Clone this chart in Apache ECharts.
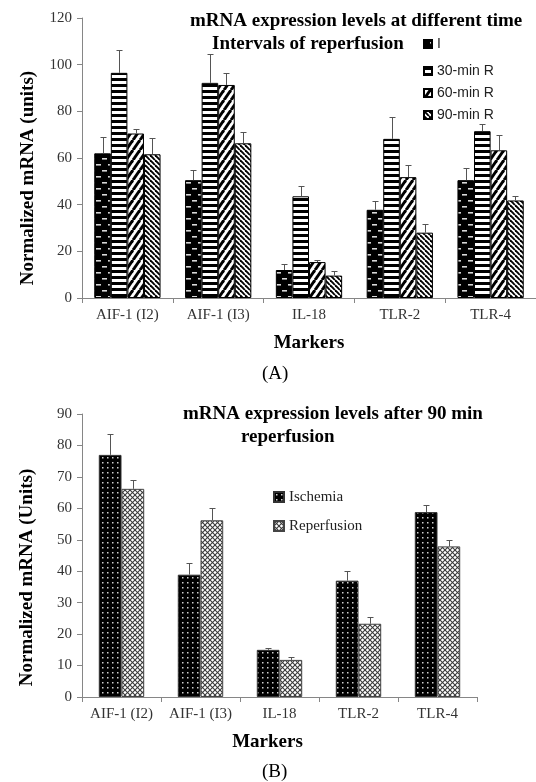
<!DOCTYPE html>
<html>
<head>
<meta charset="utf-8">
<script src="https://cdn.jsdelivr.net/npm/echarts@6/dist/echarts.min.js"></script>
<style>
html,body{margin:0;padding:0;background:#fff;}
#c{width:536px;height:782px;}
</style>
</head>
<body>
<div id="c"></div>
<script>
// ---------- DATA ----------
const categories = ['AIF-1 (I2)', 'AIF-1 (I3)', 'IL-18', 'TLR-2', 'TLR-4'];

// Panel A: mRNA expression at different time intervals of reperfusion
const namesA = ['I', '30-min R', '60-min R', '90-min R'];
const valI    = [62.0, 50.5, 12.0, 37.8, 50.5];
const errI    = [7.2, 4.5, 2.7, 3.9, 5.3];
const val30   = [96.5, 92.2, 43.6, 68.2, 71.5];
const err30   = [9.8, 12.3, 4.5, 9.2, 2.9];
const val60   = [70.5, 91.3, 15.4, 51.8, 63.3];
const err60   = [1.8, 5.2, 1.0, 5.1, 6.5];
const val90   = [61.6, 66.3, 9.6, 28.0, 41.8];
const err90   = [6.9, 4.7, 2.0, 3.8, 2.0];

// Panel B: mRNA expression after 90 min reperfusion
const namesB = ['Ischemia', 'Reperfusion'];
const valIsch = [77.0, 38.9, 15.0, 37.0, 58.8];
const errIsch = [6.5, 3.8, 0.7, 3.1, 2.4];
const valRep  = [66.2, 56.2, 11.8, 23.3, 47.9];
const errRep  = [2.9, 3.9, 0.8, 2.2, 2.1];

// axis ranges
const yA = {min: 0, max: 120, interval: 20};
const yB = {min: 0, max: 90, interval: 10};

// ---------- PATTERNS ----------
function pat(w, h, draw) {
  const c = document.createElement('canvas');
  c.width = w; c.height = h;
  const ctx = c.getContext('2d');
  draw(ctx, w, h);
  return {image: c, repeat: 'repeat'};
}
const patI = pat(12, 12, (x, w, h) => {
  x.fillStyle = '#000'; x.fillRect(0, 0, w, h);
  x.fillStyle = '#d8d8d8';
  x.fillRect(6, 2, 5, 1.6);
  x.fillRect(0, 8, 5, 1.6);
});
const pat30 = pat(4, 6, (x, w, h) => {
  x.fillStyle = '#fff'; x.fillRect(0, 0, w, h);
  x.fillStyle = '#000'; x.fillRect(0, 0, w, 3);
});
const pat60 = pat(7, 10, (x, w, h) => {
  x.fillStyle = '#fff'; x.fillRect(0, 0, w, h);
  x.strokeStyle = '#000'; x.lineWidth = 3;
  for (let k = -1; k <= 1; k++) {
    x.beginPath(); x.moveTo(k * w, h); x.lineTo(k * w + w, 0); x.stroke();
  }
});
const pat90 = pat(5, 5, (x, w, h) => {
  x.fillStyle = '#fff'; x.fillRect(0, 0, w, h);
  x.strokeStyle = '#000'; x.lineWidth = 1.9;
  for (let k = -1; k <= 1; k++) {
    x.beginPath(); x.moveTo(k * w, 0); x.lineTo(k * w + w, h); x.stroke();
  }
});
const patIsch = pat(5, 5, (x, w, h) => {
  x.fillStyle = '#000'; x.fillRect(0, 0, w, h);
  x.fillStyle = '#cfcfcf'; x.fillRect(2, 2, 1.5, 1.5);
});
const patRep = pat(5, 5, (x, w, h) => {
  x.fillStyle = '#fff'; x.fillRect(0, 0, w, h);
  x.strokeStyle = '#3a3a3a'; x.lineWidth = 1.1;
  x.beginPath(); x.moveTo(0, 0); x.lineTo(w, h); x.stroke();
  x.beginPath(); x.moveTo(0, h); x.lineTo(w, 0); x.stroke();
});

// ---------- HELPERS ----------
const serif = 'Liberation Serif, Times New Roman, serif';
const axisGray = '#868686';

function barSeries(name, vals, color, border, xi, gap) {
  return {
    name: name, type: 'bar', xAxisIndex: xi, yAxisIndex: xi,
    data: vals, barGap: '0%', barCategoryGap: gap,
    itemStyle: {color: color, borderColor: border, borderWidth: 1},
    emphasis: {disabled: true}, animation: false
  };
}
function errSeries(vals, errs, idx, n, gapFrac, xi, color) {
  return {
    type: 'custom', xAxisIndex: xi, yAxisIndex: xi, z: 5, animation: false,
    data: vals.map((v, i) => [i, v, errs[i]]),
    renderItem: function (params, api) {
      const ci = api.value(0), v = api.value(1), d = api.value(2);
      const p0 = api.coord([ci, v]);
      const p1 = api.coord([ci, v + d]);
      const catW = api.size([1, 0])[0];
      const groupW = catW * (1 - gapFrac);
      const bw = groupW / n;
      const x = Math.round(p0[0] - groupW / 2 + bw * (idx + 0.5)) + 0.5;
      const y1 = Math.round(p1[1]) + 0.5;
      return {
        type: 'group',
        children: [
          {type: 'line', shape: {x1: x, y1: p0[1], x2: x, y2: y1},
           style: {stroke: color, lineWidth: 1}},
          {type: 'line', shape: {x1: x - 3, y1: y1, x2: x + 3, y2: y1},
           style: {stroke: color, lineWidth: 1}}
        ]
      };
    }
  };
}

const gapA = 0.27, gapB = 0.425;

const option = {
  backgroundColor: '#fff',
  animation: false,
  title: [
    {text: 'mRNA expression levels at different time', left: 190, top: 12, padding: 0,
     textStyle: {fontFamily: serif, fontWeight: 'bold', fontSize: 19, color: '#000'}},
    {text: 'Intervals of reperfusion', left: 212, top: 35, padding: 0,
     textStyle: {fontFamily: serif, fontWeight: 'bold', fontSize: 19, color: '#000'}},
    {text: 'mRNA expression levels after 90 min', left: 183, top: 405, padding: 0,
     textStyle: {fontFamily: serif, fontWeight: 'bold', fontSize: 19, color: '#000'}},
    {text: 'reperfusion', left: 241, top: 428, padding: 0,
     textStyle: {fontFamily: serif, fontWeight: 'bold', fontSize: 19, color: '#000'}},
    {text: '(A)', left: 262, top: 365, padding: 0,
     textStyle: {fontFamily: serif, fontWeight: 'normal', fontSize: 19, color: '#000'}},
    {text: '(B)', left: 262, top: 763, padding: 0,
     textStyle: {fontFamily: serif, fontWeight: 'normal', fontSize: 19, color: '#000'}}
  ],
  legend: [
    {data: [namesA[0]], orient: 'vertical', left: 423, top: 37, padding: 0,
     icon: 'rect', itemWidth: 8, itemHeight: 8, itemGap: 8,
     textStyle: {fontFamily: 'Liberation Sans, sans-serif', fontSize: 14, color: '#222', lineHeight: 14}},
    {data: namesA.slice(1), orient: 'vertical', left: 423, top: 64, padding: 0,
     icon: 'rect', itemWidth: 8, itemHeight: 8, itemGap: 8,
     textStyle: {fontFamily: 'Liberation Sans, sans-serif', fontSize: 14, color: '#222', lineHeight: 14}},
    {data: namesB, orient: 'vertical', left: 273, top: 489, padding: 0,
     icon: 'rect', itemWidth: 10, itemHeight: 10, itemGap: 13,
     textStyle: {fontFamily: serif, fontSize: 15, color: '#222', lineHeight: 16}}
  ],
  grid: [
    {left: 82, top: 18, width: 457, height: 280, containLabel: false},
    {left: 82, top: 414, width: 395, height: 283, containLabel: false}
  ],
  xAxis: [0, 1].map(i => ({
    type: 'category', gridIndex: i, data: categories,
    axisLine: {show: true, lineStyle: {color: axisGray, width: 1}},
    axisTick: {show: true, length: 5, lineStyle: {color: axisGray}},
    axisLabel: {fontFamily: serif, fontSize: 15, color: '#333', margin: 10, interval: 0, hideOverlap: false},
    name: 'Markers', nameLocation: 'middle', nameGap: 36,
    nameTextStyle: {fontFamily: serif, fontWeight: 'bold', fontSize: 19, color: '#000',
                    padding: i === 1 ? [0, 24, 0, 0] : [0, 0, 0, 0]}
  })),
  yAxis: [
    {type: 'value', gridIndex: 0, min: yA.min, max: yA.max, interval: yA.interval,
     axisLine: {show: true, lineStyle: {color: axisGray}},
     axisTick: {show: true, length: 5, lineStyle: {color: axisGray}},
     splitLine: {show: false},
     axisLabel: {fontFamily: serif, fontSize: 15, color: '#333', margin: 10},
     name: 'Normalized mRNA (units)', nameLocation: 'middle', nameGap: 44,
     nameTextStyle: {fontFamily: serif, fontWeight: 'bold', fontSize: 19, color: '#000', padding: [0, 40, 0, 0]}},
    {type: 'value', gridIndex: 1, min: yB.min, max: yB.max, interval: yB.interval,
     axisLine: {show: true, lineStyle: {color: axisGray}},
     axisTick: {show: true, length: 5, lineStyle: {color: axisGray}},
     splitLine: {show: false},
     axisLabel: {fontFamily: serif, fontSize: 15, color: '#333', margin: 10},
     name: 'Normalized mRNA (Units)', nameLocation: 'middle', nameGap: 45,
     nameTextStyle: {fontFamily: serif, fontWeight: 'bold', fontSize: 19, color: '#000', padding: [0, 44, 0, 0]}}
  ],
  series: [
    barSeries(namesA[0], valI, patI, '#000', 0, '27%'),
    barSeries(namesA[1], val30, pat30, '#000', 0, '27%'),
    barSeries(namesA[2], val60, pat60, '#000', 0, '27%'),
    barSeries(namesA[3], val90, pat90, '#000', 0, '27%'),
    errSeries(valI, errI, 0, 4, gapA, 0, '#555'),
    errSeries(val30, err30, 1, 4, gapA, 0, '#555'),
    errSeries(val60, err60, 2, 4, gapA, 0, '#555'),
    errSeries(val90, err90, 3, 4, gapA, 0, '#555'),
    barSeries(namesB[0], valIsch, patIsch, '#333', 1, '42.5%'),
    barSeries(namesB[1], valRep, patRep, '#444', 1, '42.5%'),
    errSeries(valIsch, errIsch, 0, 2, gapB, 1, '#555'),
    errSeries(valRep, errRep, 1, 2, gapB, 1, '#555')
  ]
};

const chart = echarts.init(document.getElementById('c'), null, {renderer: 'canvas'});
chart.setOption(option);
</script>
</body>
</html>
